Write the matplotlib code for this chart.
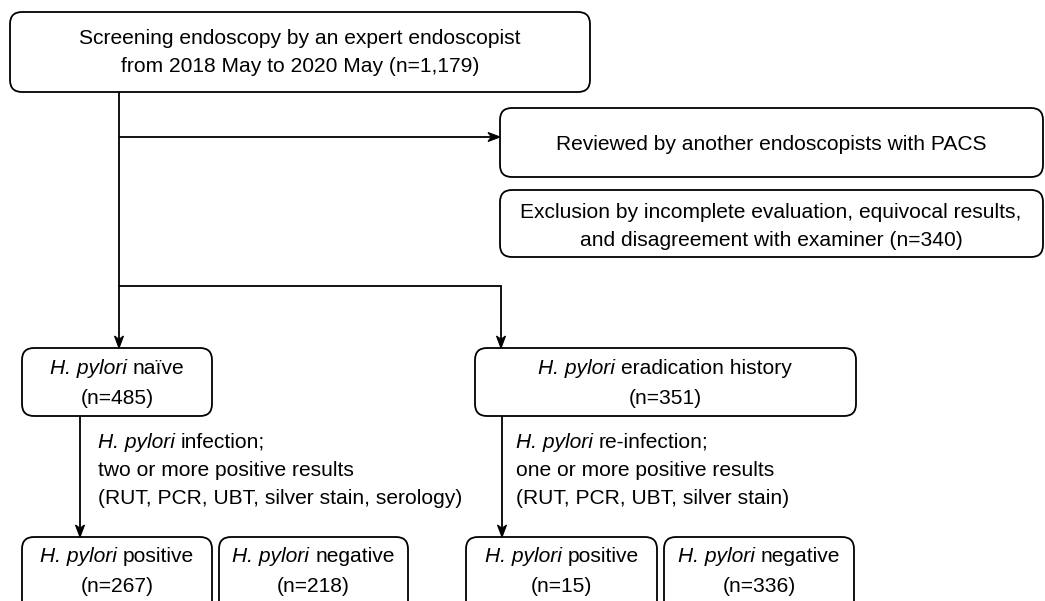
import matplotlib
matplotlib.use("Agg")
import matplotlib.pyplot as plt
import numpy as np
from matplotlib.patches import FancyBboxPatch, Polygon

plt.rcParams['font.family'] = ['Liberation Sans', 'DejaVu Sans']

# ---- data ----
n_total = 1179
n_excluded = 340
n_naive = 485
n_erad = 351
n_naive_pos = 267
n_naive_neg = 218
n_erad_pos = 15
n_erad_neg = 336
sp = "H. pylori"

W, H = 1045, 601
fig = plt.figure(figsize=(W / 100, H / 100), dpi=100)
ax = fig.add_axes([0, 0, 1, 1])
ax.set_xlim(0, W)
ax.set_ylim(H, 0)
ax.axis('off')

FS = 15.1
LW = 1.3
renderer = fig.canvas.get_renderer()
SPACE = 21 * 0.278


def box(x0, y0, x1, y1, r=12):
    p = FancyBboxPatch((x0, y0), x1 - x0, y1 - y0,
                       boxstyle=f"round,pad=0,rounding_size={r}",
                       fc='white', ec='black', lw=LW, zorder=2)
    ax.add_patch(p)


def rich(x, yc, segments, ha='center'):
    """segments: list of (text, italic). yc = visual centre of caps."""
    yb = yc + 7.5
    objs = []
    widths = []
    for s, it in segments:
        t = ax.text(0, yb, s, fontsize=FS, style='italic' if it else 'normal',
                    va='baseline', ha='left', zorder=3)
        bb = t.get_window_extent(renderer)
        objs.append(t)
        widths.append(bb.width)
    total = sum(widths) + SPACE * (len(segments) - 1)
    cx = x - total / 2 if ha == 'center' else x
    for t, w in zip(objs, widths):
        t.set_x(cx)
        cx += w + SPACE


def line(xs, ys):
    ax.plot(xs, ys, color='black', lw=LW, solid_capstyle='butt',
            solid_joinstyle='miter', zorder=1)


def arrow(xs, ys, L=12, Wd=9):
    x0, y0, x1, y1 = xs[-2], ys[-2], xs[-1], ys[-1]
    d = np.array([x1 - x0, y1 - y0], float)
    d /= np.hypot(*d)
    nrm = np.array([-d[1], d[0]])
    tip = np.array([x1, y1], float)
    base = tip - d * L
    notch = tip - d * L * 0.72
    line(list(xs[:-1]) + [notch[0]], list(ys[:-1]) + [notch[1]])
    pts = [tip, base + nrm * Wd / 2, notch, base - nrm * Wd / 2]
    ax.add_patch(Polygon(pts, closed=True, fc='black', ec='black',
                         lw=0.8, zorder=4))


# ---- connectors ----
arrow([119, 119], [92, 348])
arrow([119, 500], [137, 137])
arrow([119, 501, 501], [286, 286, 348])
arrow([80, 80], [416, 537])
arrow([502, 502], [416, 537])

# ---- boxes ----
box(10, 12, 590, 92)
rich(300, 37, [("Screening endoscopy by an expert endoscopist", False)])
rich(300, 65, [(f"from 2018 May to 2020 May (n={n_total:,})", False)])

box(500, 108, 1043, 177)
rich(771, 142, [("Reviewed by another endoscopists with PACS", False)])

box(500, 190, 1043, 257)
rich(771, 210, [("Exclusion by incomplete evaluation, equivocal results,", False)])
rich(771, 238, [(f"and disagreement with examiner (n={n_excluded})", False)])

box(22, 348, 212, 416)
rich(117, 366, [(sp, True), ("naïve", False)])
rich(117, 397, [(f"(n={n_naive})", False)])

box(475, 348, 856, 416)
rich(665, 366, [(sp, True), ("eradication history", False)])
rich(665, 397, [(f"(n={n_erad})", False)])

# body texts
rich(98, 440, [(sp, True), ("infection;", False)], ha='left')
rich(98, 469, [("two or more positive results", False)], ha='left')
rich(98, 497, [("(RUT, PCR, UBT, silver stain, serology)", False)], ha='left')

rich(516, 440, [(sp, True), ("re-infection;", False)], ha='left')
rich(516, 469, [("one or more positive results", False)], ha='left')
rich(516, 497, [("(RUT, PCR, UBT, silver stain)", False)], ha='left')

# bottom boxes
bottom = [(22, 212, "positive", n_naive_pos),
          (219, 408, "negative", n_naive_neg),
          (466, 657, "positive", n_erad_pos),
          (664, 854, "negative", n_erad_neg)]
for x0, x1, lab, n in bottom:
    box(x0, 537, x1, 625)
    cx = (x0 + x1) / 2
    rich(cx, 555, [(sp, True), (lab, False)])
    rich(cx, 584, [(f"(n={n})", False)])

fig.savefig("out.png", dpi=100)
